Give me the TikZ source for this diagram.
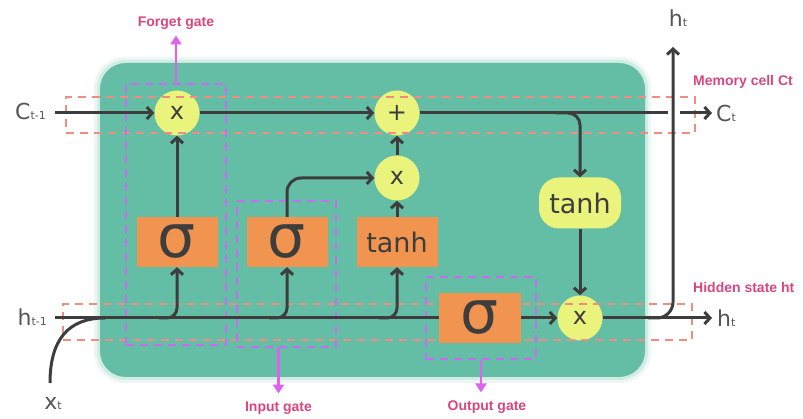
\documentclass[tikz,border=0pt]{standalone}
\usepackage{fontspec}
\newfontfamily\glyphfont{DejaVu Sans}
\newfontfamily\tagfont{Liberation Sans}
\usetikzlibrary{arrows.meta,calc}
\definecolor{cellgreen}{HTML}{64BEA5}
\definecolor{gateyellow}{HTML}{EAF47C}
\definecolor{layerorange}{HTML}{F09450}
\definecolor{wire}{HTML}{3D3D3D}
\definecolor{inkgray}{HTML}{555555}
\definecolor{statedash}{HTML}{EE8E80}
\definecolor{gatedash}{HTML}{C96AF2}
\definecolor{gatearrow}{HTML}{E060F0}
\definecolor{tagpink}{HTML}{D9467E}
\newcommand\lowidx[1]{{\fontsize{11}{11}\selectfont #1}}
\begin{document}
\begin{tikzpicture}[x=1pt,y=-1pt,
  op/.style={circle, fill=gateyellow, minimum size=45pt, inner sep=0pt, text=wire,
    font=\glyphfont\fontsize{24}{24}\selectfont},
  layer/.style={rectangle, fill=layerorange, minimum width=81pt, minimum height=50pt,
    inner sep=0pt, text=wire},
  sig/.style={layer, font=\glyphfont\fontsize{60}{60}\selectfont},
  tnh/.style={font=\glyphfont\fontsize{27}{27}\selectfont},
  wireline/.style={draw=wire, line width=3pt},
  flow/.style={wireline, -{Straight Barb[length=5.5pt,width=12pt]}},
  statebox/.style={rectangle, draw=statedash, line width=2pt, dash pattern=on 8pt off 6pt, inner sep=0pt},
  gatebox/.style={rectangle, draw=gatedash, line width=2.4pt, dash pattern=on 8pt off 6pt, inner sep=0pt},
  gatepointer/.style={draw=gatearrow, line width=2.5pt, -{Triangle[length=9pt,width=11pt]}},
  iolabel/.style={text=inkgray, font=\glyphfont\fontsize{22}{22}\selectfont, inner sep=1pt},
  tag/.style={text=tagpink, font=\tagfont\bfseries\fontsize{14}{14}\selectfont, inner sep=0pt},
]
\useasboundingbox (0,0) rectangle (803,419);

% cell body with a soft rim
\fill[cellgreen!12, rounded corners=31pt] (94,57) rectangle (651,383);
\fill[cellgreen!30, rounded corners=28pt] (97,60) rectangle (648,380);
\fill[cellgreen, rounded corners=26pt] (100,63) rectangle (645,377);

% wire end points
\coordinate (cin) at (55,113);
\coordinate (ctap) at (668,113);
\coordinate (cgap) at (680,113);
\coordinate (cend) at (712,113);
\coordinate (hin) at (55,318);
\coordinate (hjoin) at (105,318);
\coordinate (hend) at (712,318);
\coordinate (hturn) at (648,318);
\coordinate (htop) at (673,47);
\coordinate (xstart) at (50,383);

% pointwise operations
\node[op] (fx) at (177,113) {x};
\node[op] (add) at (397,113) {+};
\node[op] (ix) at (397,178) {x};
\node[op] (ox) at (580,318) {x};
\node[rectangle, rounded corners=20pt, fill=gateyellow, minimum width=82pt, minimum height=51pt,
  inner sep=0pt, text=wire, tnh] (ty) at (580,203) {tanh};

% state and gate outlines
\node[statebox, minimum width=629pt, minimum height=36pt] (membox) at (380.5,115) {};
\node[statebox, minimum width=629pt, minimum height=36pt] (hidbox) at (377.5,322) {};
\node[gatebox, minimum width=100pt, minimum height=261pt] (fgate) at (176,214.5) {};
\node[gatebox, minimum width=99pt, minimum height=146pt] (igate) at (286.5,274) {};
\node[gatebox, minimum width=110pt, minimum height=82pt] (ogate) at (481,318) {};

% neural network layers
\node[sig] (sf) at (177,242) {σ};
\node[sig] (si) at (287,242) {σ};
\node[layer, tnh] (tc) at (397,242) {tanh};
\node[sig, minimum width=82pt] (so) at (480,318) {σ};

% outside labels
\node[iolabel, anchor=base east] (cprev) at (47,120) {C\lowidx{t-1}};
\node[iolabel, anchor=base west] (cnext) at (715,122) {C\lowidx{t}};
\node[iolabel, anchor=base east] (hprev) at (48,326) {h\lowidx{t-1}};
\node[iolabel, anchor=base west] (hnext) at (716,327) {h\lowidx{t}};
\node[iolabel, anchor=base] (hup) at (678,27) {h\lowidx{t}};
\node[iolabel, anchor=base] (xin) at (53,409) {x\lowidx{t}};

% cell state path
\draw[flow] (cin) -- (fx);
\draw[flow] (fx) -- (add);
\draw[wireline] (add) -- (ctap);
\draw[flow] (cgap) -- (cend);
\draw[flow, rounded corners=12pt] ($(ty.north |- add)+(-24,0)$) -| (ty.north);
\draw[flow] (ty) -- (ox);

% input path
\draw[wireline] (xstart) .. controls (50,340) and (68,318) .. (hjoin);
\draw[wireline] (hin) -- (so.west);
\draw[flow, rounded corners=10pt] ($(sf.south |- hin)+(-18,0)$) -| (sf.south);
\draw[flow, rounded corners=10pt] ($(si.south |- hin)+(-18,0)$) -| (si.south);
\draw[flow, rounded corners=10pt] ($(tc.south |- hin)+(-18,0)$) -| (tc.south);
\draw[flow] (sf) -- (fx);
\draw[flow, rounded corners=14pt] (si.north) |- (ix.west);
\draw[flow] (tc) -- (ix);
\draw[flow] (ix) -- (add);

% output path
\draw[flow] (so) -- (ox);
\draw[flow] (ox) -- (hend);
\draw[flow, rounded corners=16pt] (hturn) -| (htop);

% gate and state tags
\node[tag] (fgtag) at (176,23) {Forget gate};
\node[tag] (igtag) at (278.5,408) {Input gate};
\node[tag] (ogtag) at (487,407) {Output gate};
\node[tag, anchor=west] (memtag) at (693,82) {Memory cell Ct};
\node[tag, anchor=west] (hidtag) at (693,287) {Hidden state ht};
\draw[gatepointer, shorten >=6pt] (fgate.north) -- (fgtag.south);
\draw[gatepointer, shorten >=8pt] (igate.south -| igtag.north) -- (igtag.north);
\draw[gatepointer, shorten >=8pt] (ogate.south) -- (ogate.south |- ogtag.north);
\end{tikzpicture}
\end{document}
